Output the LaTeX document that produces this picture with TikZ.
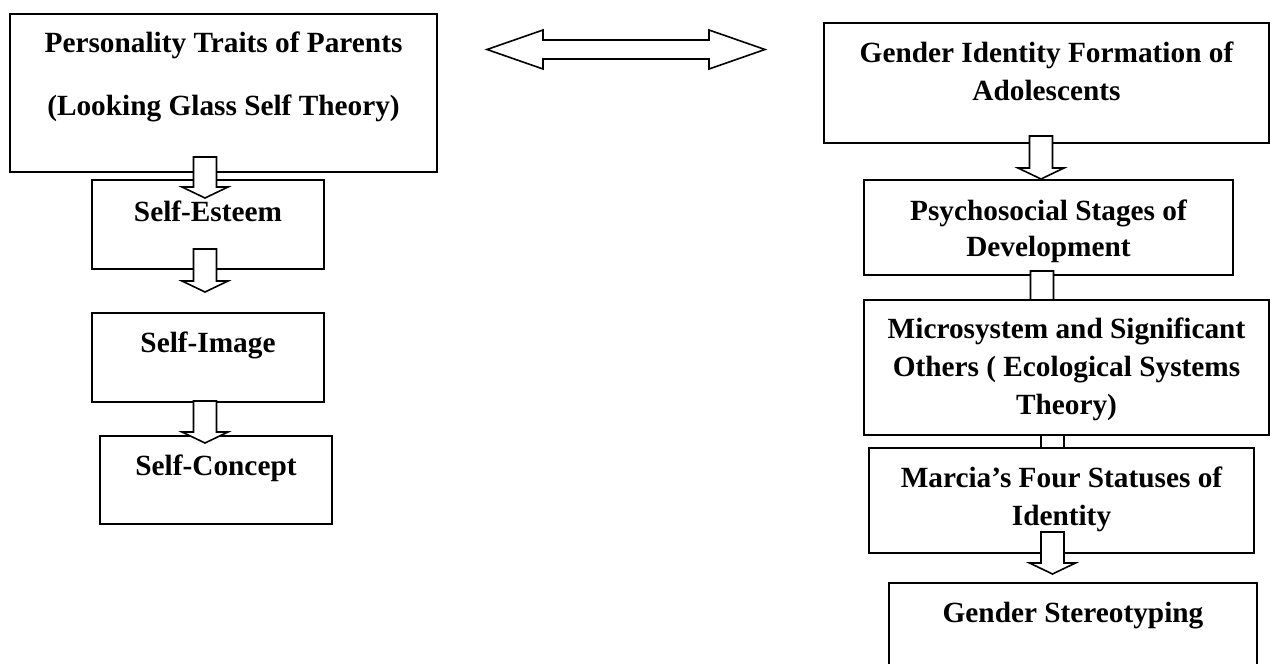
\documentclass[tikz,border=0pt]{standalone}
\usepackage{fontspec}
\setmainfont{Liberation Serif}
\usetikzlibrary{calc,fit}

\tikzset{
  frame/.style={draw, line width=1.9pt, fill=white, inner sep=0pt, outer sep=0pt},
  caption/.style={font=\fontsize{29.3}{34}\selectfont\bfseries, anchor=base, inner sep=0pt},
  blockarrow/.style={draw, fill=white, line width=1.6pt, line join=miter},
}

% hollow block arrow pointing down: #1 = top of the shaft, #2 = tip
\newcommand{\blockdown}[2]{%
  \path[blockarrow] let \p1=(#1), \p2=(#2) in
    (\x1-11.5pt,\y1) -- (\x1+11.5pt,\y1) -- (\x1+11.5pt,\y2+11pt) -- (\x1+23pt,\y2+11pt)
    -- (\x1,\y2) -- (\x1-23pt,\y2+11pt) -- (\x1-11.5pt,\y2+11pt) -- cycle;}

\begin{document}
\begin{tikzpicture}[x=1pt, y=-1pt]
\useasboundingbox (0,0) rectangle (1270,664);
\clip (0,0) rectangle (1270,664);

% ---------------- left column ----------------
\node[frame, fit={(10,14) (437,172)}] (parents) {};
\node[frame, fit={(92,180) (324,269)}] (esteem) {};
\node[frame, fit={(92,313) (324,402)}] (image) {};
\node[frame, fit={(100,436) (332,524)}] (concept) {};

\coordinate (a1s) at (205,157);  \coordinate (a1e) at (205,198);
\coordinate (a2s) at (205,249);  \coordinate (a2e) at (205,292);
\coordinate (a3s) at (205,401);  \coordinate (a3e) at (205,443);
\blockdown{a1s}{a1e}
\blockdown{a2s}{a2e}
\blockdown{a3s}{a3e}

\node[caption] (tp1) at (parents.center |- 0,52) {Personality Traits of Parents};
\node[caption] (tp2) at (parents.center |- 0,115) {(Looking Glass Self Theory)};
\node[caption] (tse) at (esteem.center |- 0,221) {Self-Esteem};
\node[caption] (tsi) at (image.center |- 0,352) {Self-Image};
\node[caption] (tsc) at (concept.center |- 0,475) {Self-Concept};

% ---------------- two-way link ----------------
\coordinate (dl) at (487,49.5);
\coordinate (dr) at (765,49.5);
\path[blockarrow] (dl) -- (543,30) -- (543,40) -- (709,40) -- (709,30) -- (dr)
  -- (709,69) -- (709,59) -- (543,59) -- (543,69) -- cycle;

% ---------------- right column ----------------
\node[frame, fit={(824,23) (1269,143)}] (gender) {};
\node[frame, fit={(864,180) (1233,275)}] (psycho) {};

\coordinate (b1s) at (1041,136);   \coordinate (b1e) at (1041,179);
\coordinate (b2s) at (1042,271);   \coordinate (b2e) at (1042,314);
\blockdown{b1s}{b1e}
\blockdown{b2s}{b2e}

\node[frame, fit={(864,300) (1269,435)}] (micro) {};

\coordinate (b3s) at (1052.5,435); \coordinate (b3e) at (1052.5,464);
\blockdown{b3s}{b3e}

\node[frame, fit={(869,448) (1254,553)}] (marcia) {};

\coordinate (b4s) at (1052.5,532); \coordinate (b4e) at (1052.5,574);
\blockdown{b4s}{b4e}

\node[frame, fit={(889,583) (1257,680)}] (stereo) {};

\node[caption] (tg1) at (gender.center |- 0,62) {Gender Identity Formation of};
\node[caption] (tg2) at (gender.center |- 0,100) {Adolescents};
\node[caption] (tq1) at (psycho.center |- 0,220) {Psychosocial Stages of};
\node[caption] (tq2) at (psycho.center |- 0,256) {Development};
\node[caption] (tm1) at (micro.center |- 0,338) {Microsystem and Significant};
\node[caption] (tm2) at (micro.center |- 0,376) {Others ( Ecological Systems};
\node[caption] (tm3) at (micro.center |- 0,414) {Theory)};
\node[caption] (tr1) at (marcia.center |- 0,487) {Marcia’s Four Statuses of};
\node[caption] (tr2) at (marcia.center |- 0,525) {Identity};
\node[caption] (tst) at (stereo.center |- 0,622) {Gender Stereotyping};
\end{tikzpicture}
\end{document}
